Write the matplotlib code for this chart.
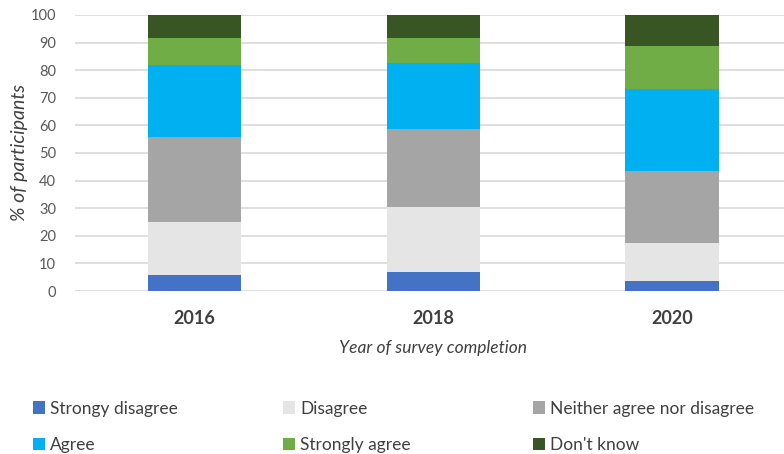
import matplotlib.pyplot as plt
import numpy as np

plt.rcParams['font.family'] = ['Lato', 'DejaVu Sans']

# data (% of participants)
years = ['2016', '2018', '2020']
categories = ['Strongy disagree', 'Disagree', 'Neither agree nor disagree',
              'Agree', 'Strongly agree', "Don't know"]
strongly_disagree = [5.7, 7.0, 3.6]
disagree = [19.3, 23.4, 13.8]
neither = [30.8, 28.3, 26.1]
agree = [26.1, 23.9, 29.6]
strongly_agree = [9.8, 9.1, 15.7]
dont_know = [8.3, 8.3, 11.2]
colors = ['#4472C4', '#E5E5E5', '#A5A5A5', '#00B0F0', '#70AD47', '#375623']

series = [strongly_disagree, disagree, neither, agree, strongly_agree, dont_know]

fig = plt.figure(figsize=(7.84, 4.54), dpi=100)
ax = fig.add_axes([0.0963, 0.359, 0.913, 0.608])

x = np.arange(len(years))
bottom = np.zeros(len(years))
handles = []
for vals, col, name in zip(series, colors, categories):
    b = ax.bar(x, vals, width=0.39, bottom=bottom, color=col, label=name, zorder=3)
    handles.append(b)
    bottom += np.array(vals)

ax.set_xlim(-0.5, 2.5)
ax.set_ylim(0, 100)
ax.set_yticks(range(0, 101, 10))
ax.yaxis.grid(True, color='#D9D9D9', linewidth=1.2, zorder=0)
ax.set_axisbelow(True)
for s in ax.spines.values():
    s.set_visible(False)
ax.tick_params(axis='both', length=0)
ax.tick_params(axis='y', labelsize=10.5, labelcolor='#595959', pad=14)
ax.set_xticks(x)
ax.set_xticklabels(years, fontsize=13, fontweight='bold', color='#404040')
ax.tick_params(axis='x', pad=14)

ax.set_ylabel('% of participants', fontsize=14, fontstyle='italic', color='#404040', labelpad=2)
ax.set_xlabel('Year of survey completion', fontsize=12.5, fontstyle='italic', color='#404040', labelpad=9)

# legend: one small legend per column so the columns line up with the reference
col_x = [0.022, 0.341, 0.660]
for c in range(3):
    pair = [c, c + 3]
    fig.legend([handles[i] for i in pair], [categories[i] for i in pair],
               loc='lower left', bbox_to_anchor=(col_x[c], -0.033),
               frameon=False, fontsize=12.5, handlelength=0.7, handleheight=0.7,
               handletextpad=0.3, labelspacing=1.2, labelcolor='#404040')

fig.savefig('out.png', dpi=100)
